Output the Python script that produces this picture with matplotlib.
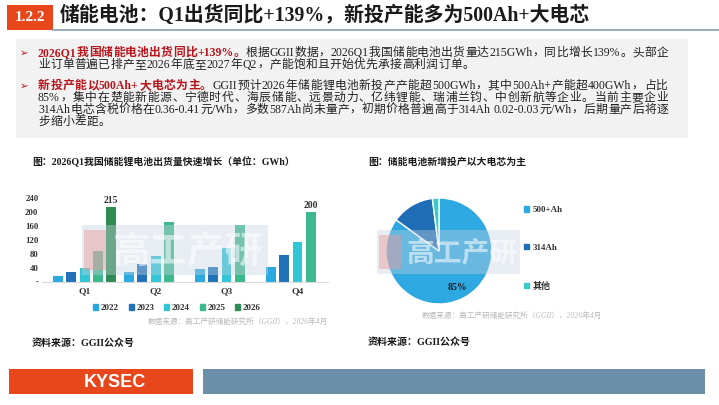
import re
import matplotlib
matplotlib.use("Agg")
import matplotlib.pyplot as plt
from matplotlib.patches import Rectangle, Patch
from matplotlib.lines import Line2D
from matplotlib.font_manager import FontProperties

W, H = 719, 405
BODY = ["Liberation Serif", "Noto Sans CJK SC", "DejaVu Sans"]
RED = "#b8141c"
INK = "#222222"

# bar chart data (GWh)
quarters = ["Q1", "Q2", "Q3", "Q4"]
years = ["2022", "2023", "2024", "2025", "2026"]
ship_2022 = [16, 27, 36, 43]
ship_2023 = [28, 50, 43, 77]
ship_2024 = [38, 74, 98, 113]
ship_2025 = [89, 173, 164, 200]
ship_2026 = [215, None, None, None]
shipments = [ship_2022, ship_2023, ship_2024, ship_2025, ship_2026]
bar_colors = ["#2aa9e1", "#2172b9", "#30c6d6", "#3db98d", "#2f8b52"]
y_ticks = [0, 40, 80, 120, 160, 200, 240]
y_tick_labels = ["-", "40", "80", "120", "160", "200", "240"]
labelled = [(4, 0), (3, 3)]  # (year index, quarter index) with value labels

# pie data (%)
cell_types = ["500+Ah", "314Ah", "其他"]
cell_share = [85, 13, 2]
pie_colors = ["#2ea8e0", "#1f6db5", "#3cc9c9"]

plt.rcParams["font.family"] = BODY

fig = plt.figure(figsize=(W / 100, H / 100), dpi=100)
renderer = fig.canvas.get_renderer()


def fx(x):
    return x / W


def fy(y):
    return 1 - y / H


def rect(x0, y0, x1, y1, color, z=0, alpha=1.0):
    fig.add_artist(Rectangle((fx(x0), fy(y1)), (x1 - x0) / W, (y1 - y0) / H,
                             transform=fig.transFigure, facecolor=color,
                             edgecolor="none", zorder=z, alpha=alpha))


def text_width(s, prop):
    w1 = renderer.get_text_width_height_descent("I" + s + "I", prop, ismath=False)[0]
    w0 = renderer.get_text_width_height_descent("II", prop, ismath=False)[0]
    return w1 - w0


def draw_runs(x0, y, runs, x1=None, size=8.5, family=BODY, gap=0.3):
    # lay out tokens one by one so lines can be justified like the slide
    items = []
    for text, color, weight in runs:
        prop = FontProperties(family=family, size=size, weight=weight)
        for tok in re.findall(r"[A-Za-z0-9.%+/\-]+| |.", text):
            items.append((tok, color, prop, text_width(tok, prop)))
    total = sum(it[3] for it in items)
    if x1 is not None and len(items) > 1:
        gap = (x1 - x0 - total) / (len(items) - 1)
    x = x0
    for tok, color, prop, w in items:
        fig.text(fx(x), fy(y), tok, color=color, fontproperties=prop, va="baseline")
        x += w + gap


# header
rect(7, 5, 53, 30, "#e8471c", z=1)
fig.text(fx(30), fy(17.5), "1.2.2", color="white", fontsize=11, weight="bold",
         family="Liberation Serif", ha="center", va="center")
fig.text(fx(60), fy(16), "储能电池：Q1出货同比+139%，新投产能多为500Ah+大电芯",
         fontsize=14.3, weight="bold", color="#1a1a1a", va="center")
fig.add_artist(Line2D([fx(53), fx(719)], [fy(29.5), fy(29.5)], color="#8ea5b8",
                      lw=1.3, transform=fig.transFigure))

# summary box
rect(16, 39, 688, 138, "#f2f2f2", z=0)
body = [
    (56, [("2026Q1我国储能电池出货同比+139%。", RED, "bold"),
          ("根据GGII数据，2026Q1我国储能电池出货量达215GWh，同比增长139%。头部企", INK, "normal")], True, True),
    (68, [("业订单普遍已排产至2026年底至2027年Q2，产能饱和且开始优先承接高利润订单。", INK, "normal")], False, False),
    (89, [("新投产能以500Ah+大电芯为主。", RED, "bold"),
          ("GGII预计2026年储能锂电池新投产产能超500GWh，其中500Ah+产能超400GWh，占比", INK, "normal")], True, True),
    (101, [("85%，集中在楚能新能源、宁德时代、海辰储能、远景动力、亿纬锂能、瑞浦兰钧、中创新航等企业。当前主要企业", INK, "normal")], False, True),
    (113, [("314Ah电芯含税价格在0.36-0.41元/Wh，多数587Ah尚未量产，初期价格普遍高于314Ah 0.02-0.03元/Wh，后期量产后将逐", INK, "normal")], False, True),
    (124.5, [("步缩小差距。", INK, "normal")], False, False),
]
for y, runs, bullet, justify in body:
    if bullet:
        fig.text(fx(20), fy(y), "➢", color=RED, fontsize=7.5, family="DejaVu Sans", va="baseline")
    draw_runs(38, y, runs, x1=668 if justify else None)

# bar chart
fig.text(fx(32), fy(162), "图：2026Q1我国储能锂电池出货量快速增长（单位：GWh）",
         fontsize=7.1, weight="bold", color="#1a1a1a", va="center")
ax = fig.add_axes([fx(42), fy(281.5), (328 - 42) / W, (281.5 - 194.8) / H])
step, bw = 0.187, 0.14
for i, (year, vals) in enumerate(zip(years, shipments)):
    xs = [q + (i - 2) * step for q, v in enumerate(vals) if v is not None]
    hs = [v for v in vals if v is not None]
    ax.bar(xs, hs, width=bw, color=bar_colors[i], label=year)
for i, q in labelled:
    ax.annotate(str(shipments[i][q]), (q + (i - 2) * step, shipments[i][q]),
                xytext=(0, 1.5), textcoords="offset points", ha="center", va="bottom",
                fontsize=7, weight="bold", color="#333333")
ax.set_xlim(-0.6, 3.43)
ax.set_ylim(0, 250)
ax.set_yticks(y_ticks, y_tick_labels)
ax.set_xticks(range(len(quarters)), quarters)
ax.tick_params(length=0, labelsize=6.3, colors="#333333")
ax.tick_params(axis="x", pad=4.5, labelsize=6.8)
ax.tick_params(axis="y", pad=2.5)
for lab in ax.get_xticklabels() + ax.get_yticklabels():
    lab.set_fontweight("bold")
for s in ["top", "right", "left"]:
    ax.spines[s].set_visible(False)
ax.spines["bottom"].set_color("#d9d9d9")
ax.spines["bottom"].set_linewidth(0.8)
ax.patch.set_alpha(0)
handles = [Patch(color=c) for c in bar_colors]
fig.legend(handles, years, loc="center", bbox_to_anchor=(fx(177), fy(308)), ncol=5,
           frameon=False, prop={"size": 6.5, "weight": "bold"}, handlelength=0.55,
           handleheight=0.55, handletextpad=0.3, columnspacing=1.1, labelcolor="#333333")
fig.text(fx(328), fy(322), "数据来源：高工产研储能研究所（GGII），2026年4月", ha="right",
         va="center", fontsize=5.5, color="#b8b8b8", style="italic")
fig.text(fx(32), fy(343), "资料来源：GGII公众号", fontsize=7.2, weight="bold",
         color="#1a1a1a", va="center")

# pie chart
fig.text(fx(368), fy(162), "图：储能电池新增投产以大电芯为主", fontsize=7.1,
         weight="bold", color="#1a1a1a", va="center")
side = 53 * 2.5
pax = fig.add_axes([fx(439 - side / 2), fy(251 + side / 2), side / W, side / H])
pax.pie(cell_share, colors=pie_colors, startangle=90, counterclock=False,
        wedgeprops=dict(edgecolor="white", linewidth=1.0),
        autopct=lambda p: f"{p:.0f}%" if p > 50 else "", pctdistance=0.78,
        textprops=dict(fontsize=7, weight="bold", color="#1a1a1a"))
pax.set_xlim(-1.25, 1.25)
pax.set_ylim(-1.25, 1.25)
pie_handles = [Patch(color=c) for c in pie_colors]
fig.legend(pie_handles, cell_types, loc="upper left", bbox_to_anchor=(fx(516), fy(198)),
           frameon=False, prop={"size": 6.5, "weight": "bold"}, handlelength=0.55,
           handleheight=0.55, handletextpad=0.4, labelspacing=3.3, labelcolor="#333333")
fig.text(fx(602), fy(316), "数据来源：高工产研储能研究所（GGII），2026年4月", ha="right",
         va="center", fontsize=5.5, color="#b8b8b8", style="italic")
fig.text(fx(368), fy(342), "资料来源：GGII公众号", fontsize=7.2, weight="bold",
         color="#1a1a1a", va="center")

# watermarks
for x0, x1, y0, y1, fs in [(82, 268, 225, 275, 27), (377, 520, 230, 274, 20)]:
    rect(x0, y0, x1, y1, "#c3d2e0", z=5, alpha=0.4)
    rect(x0 + 2, y0 + 5, x0 + 24, y1 - 5, "#e79a9a", z=5, alpha=0.45)
    fig.text(fx((x0 + 26 + x1) / 2), fy((y0 + y1) / 2 + 1), "高工产研", fontsize=fs,
             weight="bold", color="white", alpha=0.55, ha="center", va="center",
             family="Noto Sans CJK SC", zorder=6)

# footer
rect(9, 369, 193, 394, "#e8471c", z=1)
rect(203, 369, 705, 394, "#6b8fa6", z=1)
draw_runs(84, 387, [("KYSEC", "white", "bold")], x1=174, size=13, family="Liberation Sans")

fig.savefig("out.png", dpi=100)
